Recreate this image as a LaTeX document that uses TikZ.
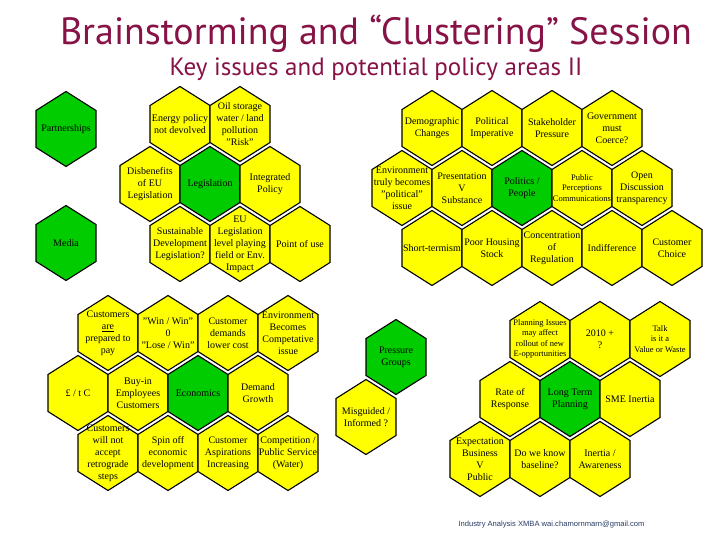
\documentclass[tikz,border=0pt]{standalone}
\usepackage{fontspec}
\setmainfont{Liberation Serif}
\newfontfamily\titlefont{PT Sans}
\newfontfamily\footfont{Liberation Sans}
\definecolor{hexyellow}{RGB}{255,255,0}
\definecolor{hexgreen}{RGB}{0,204,0}
\definecolor{titlered}{RGB}{135,18,70}
\definecolor{footblue}{RGB}{40,60,100}
\tikzset{
  hexline/.style={draw=black, line width=1.1pt, line join=miter},
  hextext/.style={font=\fontsize{10}{12}\selectfont, align=center, inner sep=0pt},
  smalltext/.style={font=\fontsize{8.5}{10.5}\selectfont, align=center, inner sep=0pt},
  yel/.style={fill=hexyellow},
  grn/.style={fill=hexgreen}
}
% name, x, y, fill style, text style, text
\newcommand\hexcell[6]{%
  \begin{scope}[shift={(#2,#3)}]
    \filldraw[hexline, #4] (-30,-18.5) -- (0,-37.5) -- (30,-18.5) -- (30,18.5) -- (0,37.5) -- (-30,18.5) -- cycle;
  \end{scope}
  \node[#5] (#1) at (#2,#3) {#6};
}
\begin{document}
\begin{tikzpicture}[x=1pt,y=-1pt]
\useasboundingbox (0,0) rectangle (720,540);
% titles
\node[font=\titlefont\fontsize{38}{42}\selectfont, text=titlered] (title) at (376,33.5) {Brainstorming and “Clustering” Session};
\node[font=\titlefont\fontsize{25}{29}\selectfont, text=titlered] (subtitle) at (376,69.5) {Key issues and potential policy areas II};
% left top
\hexcell{partner}{66}{129}{grn}{hextext}{Partnerships}
\hexcell{media}{66}{243}{grn}{hextext}{Media}
\hexcell{energy}{180}{124}{yel}{hextext}{Energy policy\\not devolved}
\hexcell{oil}{240}{124}{yel}{hextext}{Oil storage\\water / land\\pollution\\"Risk"}
\hexcell{disb}{150}{184}{yel}{hextext}{Disbenefits\\of EU\\Legislation}
\hexcell{legis}{210}{184}{grn}{hextext}{Legislation}
\hexcell{integ}{270}{184}{yel}{hextext}{Integrated\\Policy}
\hexcell{sust}{180}{244}{yel}{hextext}{Sustainable\\Development\\Legislation?}
\hexcell{eulev}{240}{244}{yel}{hextext}{EU\\Legislation\\level playing\\field or Env.\\Impact}
\hexcell{point}{300}{244}{yel}{hextext}{Point of use}
% left bottom
\hexcell{custpay}{108}{333}{yel}{hextext}{Customers\\\underline{are}\\prepared to\\pay}
\hexcell{winwin}{168}{333}{yel}{hextext}{"Win / Win"\\0\\"Lose / Win"}
\hexcell{custdem}{228}{333}{yel}{hextext}{Customer\\demands\\lower cost}
\hexcell{envcomp}{288}{333}{yel}{hextext}{Environment\\Becomes\\Competative\\issue}
\hexcell{pound}{78}{393}{yel}{hextext}{£ / t C}
\hexcell{buyin}{138}{393}{yel}{hextext}{Buy-in\\Employees\\Customers}
\hexcell{econ}{198}{393}{grn}{hextext}{Economics}
\hexcell{demand}{258}{393}{yel}{hextext}{Demand\\Growth}
\hexcell{custnot}{108}{453}{yel}{hextext}{Customers\\will not\\accept\\retrograde\\steps}
\hexcell{spin}{168}{453}{yel}{hextext}{Spin off\\economic\\development}
\hexcell{aspir}{228}{453}{yel}{hextext}{Customer\\Aspirations\\Increasing}
\hexcell{compet}{288}{453}{yel}{hextext}{Competition /\\Public Service\\(Water)}
% right top
\hexcell{demog}{432}{128}{yel}{hextext}{Demographic\\Changes}
\hexcell{polimp}{492}{128}{yel}{hextext}{Political\\Imperative}
\hexcell{stake}{552}{128}{yel}{hextext}{Stakeholder\\Pressure}
\hexcell{govt}{612}{128}{yel}{hextext}{Government\\must\\Coerce?}
\hexcell{envpol}{402}{188}{yel}{hextext}{Environment\\truly becomes\\"political"\\issue}
\hexcell{present}{462}{188}{yel}{hextext}{Presentation\\V\\Substance}
\hexcell{politics}{522}{188}{grn}{hextext}{Politics /\\People}
\hexcell{percep}{582}{188}{yel}{smalltext}{Public\\Perceptions\\Communications}
\hexcell{open}{642}{188}{yel}{hextext}{Open\\Discussion\\transparency}
\hexcell{short}{432}{248}{yel}{hextext}{Short-termism}
\hexcell{housing}{492}{248}{yel}{hextext}{Poor Housing\\Stock}
\hexcell{concen}{552}{248}{yel}{hextext}{Concentration\\of\\Regulation}
\hexcell{indiff}{612}{248}{yel}{hextext}{Indifference}
\hexcell{choice}{672}{248}{yel}{hextext}{Customer\\Choice}
% right bottom
\hexcell{pressure}{396}{357}{grn}{hextext}{Pressure\\Groups}
\hexcell{misguided}{366}{417}{yel}{hextext}{Misguided /\\Informed ?}
\hexcell{planiss}{540}{339}{yel}{smalltext}{Planning Issues\\may affect\\rollout of new\\E-opportunities}
\hexcell{y2010}{600}{339}{yel}{hextext}{2010 +\\?}
\hexcell{talk}{660}{339}{yel}{smalltext}{Talk\\is it a\\Value or Waste}
\hexcell{rate}{510}{399}{yel}{hextext}{Rate of\\Response}
\hexcell{longterm}{570}{399}{grn}{hextext}{Long Term\\Planning}
\hexcell{sme}{630}{399}{yel}{hextext}{SME Inertia}
\hexcell{expect}{480}{459}{yel}{hextext}{Expectation\\Business\\V\\Public}
\hexcell{baseline}{540}{459}{yel}{hextext}{Do we know\\baseline?}
\hexcell{inertia}{600}{459}{yel}{hextext}{Inertia /\\Awareness}
% footer
\node[font=\footfont\fontsize{7.6}{9}\selectfont, text=footblue, anchor=west] (footer) at (455,525) {Industry Analysis XMBA wai.chamornmarn@gmail.com};
\end{tikzpicture}
\end{document}
